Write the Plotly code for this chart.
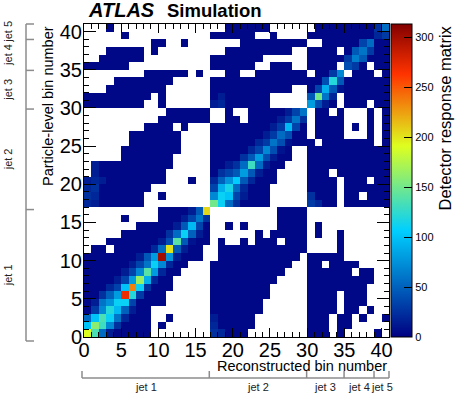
import numpy as np
import plotly.graph_objects as go

FONT = "Liberation Sans, Arial, Helvetica, sans-serif"

n_bins = 41
bin_numbers = list(range(n_bins))
major_ticks = [0, 5, 10, 15, 20, 25, 30, 35, 40]
colorbar_ticks = [0, 50, 100, 150, 200, 250, 300]
z_max = 313

jet_names = ["jet 1", "jet 2", "jet 3", "jet 4", "jet 5"]
jet_edges = [0, 17, 30, 35, 39, 41]

# non-empty cells per particle-level bin, as (first, last) reconstructed bins
filled_cells = {
    40: [(3, 3), (19, 24), (31, 40)],
    39: [(5, 5), (17, 22), (25, 25), (30, 40)],
    38: [(9, 10), (13, 13), (21, 29), (32, 40)],
    37: [(3, 7), (9, 9), (19, 27), (30, 33), (35, 40)],
    36: [(2, 7), (17, 23), (30, 40)],
    35: [(0, 5), (17, 22), (25, 27), (30, 33), (35, 37), (39, 40)],
    34: [(8, 13), (15, 15), (19, 20), (23, 29), (31, 34), (36, 38), (40, 40)],
    33: [(4, 11), (17, 40)],
    32: [(3, 10), (17, 27), (30, 40)],
    31: [(0, 8), (10, 10), (17, 24), (30, 33), (35, 40)],
    30: [(0, 7), (10, 10), (17, 24), (30, 33), (35, 37), (39, 40)],
    29: [(11, 16), (19, 19), (22, 29), (31, 32), (34, 34), (38, 38), (40, 40)],
    28: [(10, 16), (19, 20), (22, 29), (31, 34), (38, 38), (40, 40)],
    27: [(8, 11), (13, 13), (17, 29), (31, 34), (36, 36), (38, 38), (40, 40)],
    26: [(6, 12), (17, 29), (31, 34), (38, 38), (40, 40)],
    25: [(6, 12), (17, 30), (32, 38), (40, 40)],
    24: [(5, 12), (17, 27), (30, 40)],
    23: [(5, 11), (17, 27), (30, 40)],
    22: [(1, 11), (17, 26), (30, 40)],
    21: [(1, 10), (17, 25), (30, 32), (34, 40)],
    20: [(0, 10), (14, 14), (17, 25), (30, 33), (35, 37), (39, 40)],
    19: [(0, 8), (17, 24), (30, 33), (35, 40)],
    18: [(0, 7), (10, 10), (17, 24), (30, 33), (35, 36), (38, 40)],
    17: [(0, 7), (17, 24), (30, 33), (35, 40)],
    16: [(10, 16), (26, 29)],
    15: [(5, 5), (10, 16), (26, 29)],
    14: [(7, 16), (19, 19), (21, 21), (26, 29), (31, 31)],
    13: [(5, 16), (23, 23), (25, 29), (31, 31), (34, 34)],
    12: [(3, 16), (18, 18), (21, 21), (23, 25), (27, 29), (34, 34)],
    11: [(1, 2), (4, 15), (18, 29), (34, 34)],
    10: [(0, 15), (18, 28), (30, 34)],
    9: [(0, 13), (17, 27), (30, 31), (33, 36)],
    8: [(0, 12), (17, 26), (30, 35), (37, 38)],
    7: [(0, 11), (17, 25), (30, 38)],
    6: [(0, 11), (17, 24), (30, 37)],
    5: [(0, 10), (17, 24), (30, 33), (35, 37)],
    4: [(0, 10), (17, 23), (30, 33), (35, 37)],
    3: [(0, 8), (17, 23), (30, 33), (35, 36), (38, 38)],
    2: [(0, 8), (11, 11), (17, 22), (30, 32), (34, 35), (37, 37), (40, 40)],
    1: [(0, 8), (10, 10), (17, 22), (30, 32), (34, 35)],
    0: [(0, 8), (17, 21), (30, 32), (34, 34), (39, 39)],
}
low_count = 4  # typical content of the dark blue cells

# cells standing out from the dark blue, keyed by (particle bin, reco bin)
cell_counts = {
    # jet 1
    (0, 0): 190, (0, 1): 135, (0, 2): 55, (0, 3): 15,
    (1, 0): 100, (1, 1): 160, (1, 2): 130, (1, 3): 70, (1, 4): 25,
    (2, 0): 55, (2, 1): 100, (2, 2): 135, (2, 3): 110, (2, 4): 60, (2, 5): 20,
    (3, 1): 30, (3, 2): 70, (3, 3): 120, (3, 4): 95, (3, 5): 50, (3, 6): 15,
    (4, 1): 15, (4, 2): 60, (4, 3): 75, (4, 4): 110, (4, 5): 110, (4, 6): 35,
    (5, 2): 25, (5, 3): 50, (5, 4): 80, (5, 5): 270, (5, 6): 120, (5, 7): 30,
    (6, 3): 20, (6, 4): 35, (6, 5): 100, (6, 6): 235, (6, 7): 110, (6, 8): 25,
    (7, 4): 15, (7, 5): 35, (7, 6): 80, (7, 7): 165, (7, 8): 90, (7, 9): 20,
    (8, 5): 15, (8, 6): 35, (8, 7): 70, (8, 8): 140, (8, 9): 80, (8, 10): 20,
    (9, 6): 15, (9, 7): 35, (9, 8): 60, (9, 9): 110, (9, 10): 70, (9, 11): 20,
    (10, 7): 15, (10, 8): 45, (10, 9): 80, (10, 10): 300, (10, 11): 75, (10, 12): 15,
    (11, 9): 20, (11, 10): 55, (11, 11): 200, (11, 12): 45, (11, 13): 15,
    (12, 10): 15, (12, 11): 40, (12, 12): 140, (12, 13): 45, (12, 14): 10,
    (13, 11): 25, (13, 12): 55, (13, 13): 110, (13, 14): 50, (13, 15): 15,
    (14, 12): 15, (14, 13): 45, (14, 14): 95, (14, 15): 35,
    (15, 13): 15, (15, 14): 35, (15, 15): 60, (15, 16): 25,
    (16, 14): 15, (16, 15): 45, (16, 16): 205,
    (17, 0): 20, (17, 1): 15, (18, 0): 25, (18, 1): 20, (19, 0): 20, (19, 1): 25,
    (20, 0): 15, (20, 1): 20, (20, 2): 15, (21, 1): 15, (22, 1): 15,
    (0, 17): 25, (0, 18): 20, (1, 17): 20, (2, 17): 15,
    # jet 2
    (17, 17): 150, (17, 18): 110, (17, 19): 55, (17, 20): 25,
    (18, 17): 70, (18, 18): 110, (18, 19): 100, (18, 20): 35, (18, 21): 15,
    (19, 17): 35, (19, 18): 90, (19, 19): 115, (19, 20): 55, (19, 21): 20,
    (20, 17): 20, (20, 18): 50, (20, 19): 75, (20, 20): 105, (20, 21): 45, (20, 22): 20,
    (21, 18): 25, (21, 19): 35, (21, 20): 45, (21, 21): 80, (21, 22): 45, (21, 23): 15,
    (22, 19): 15, (22, 20): 25, (22, 21): 55, (22, 22): 130, (22, 23): 55, (22, 24): 15,
    (23, 21): 25, (23, 22): 45, (23, 23): 80, (23, 24): 40, (23, 25): 15,
    (24, 22): 20, (24, 23): 35, (24, 24): 70, (24, 25): 40, (24, 26): 10,
    (25, 23): 20, (25, 24): 30, (25, 25): 60, (25, 26): 40, (25, 27): 10,
    (26, 24): 15, (26, 25): 30, (26, 26): 55, (26, 27): 40,
    (27, 25): 15, (27, 26): 30, (27, 27): 95, (27, 28): 35,
    (28, 26): 15, (28, 27): 30, (28, 28): 60, (28, 29): 25,
    (29, 27): 15, (29, 28): 35, (29, 29): 60,
    (17, 30): 30, (18, 30): 25, (17, 31): 20,
    # jet 3
    (30, 30): 80, (30, 31): 40, (30, 32): 15,
    (31, 30): 45, (31, 31): 150, (31, 32): 60, (31, 33): 20,
    (32, 31): 35, (32, 32): 90, (32, 33): 45, (32, 34): 10,
    (33, 32): 40, (33, 33): 120, (33, 34): 45,
    (34, 33): 30, (34, 34): 70,
    (30, 17): 15, (30, 18): 20, (31, 18): 15,
    # jet 4 and jet 5
    (35, 35): 40, (35, 36): 30, (36, 35): 30, (36, 36): 65, (36, 37): 45,
    (37, 36): 45, (37, 37): 60, (37, 38): 30, (38, 37): 35, (38, 38): 55,
    (39, 39): 20, (39, 40): 30, (40, 39): 25, (40, 40): 55,
}

# ROOT style rainbow palette
palette = [
    [0.00, "rgb(0,0,130)"],
    [0.34, "rgb(0,207,255)"],
    [0.61, "rgb(222,255,31)"],
    [0.84, "rgb(255,51,0)"],
    [1.00, "rgb(130,0,0)"],
]

z = np.full((n_bins, n_bins), np.nan)
for row, spans in filled_cells.items():
    for first, last in spans:
        z[row, first:last + 1] = low_count
for (row, col), count in cell_counts.items():
    z[row, col] = count

# page geometry (pixels)
W, H = 457, 393
L, R, T, B = 84, 68, 24, 56
PW, PH = W - L - R, H - T - B


def paper_x(px):
    return (px - L) / PW


def paper_y(py):
    return (H - B - py) / PH


fig = go.Figure(go.Heatmap(
    z=z,
    x=[b + 0.5 for b in bin_numbers],
    y=[b + 0.5 for b in bin_numbers],
    zmin=0, zmax=z_max,
    colorscale=palette,
    hoverongaps=False,
    colorbar=dict(
        x=paper_x(391), xanchor="left", xpad=0, ypad=0,
        y=0.5, yanchor="middle", len=1, lenmode="fraction",
        thickness=21, thicknessmode="pixels",
        outlinewidth=1, outlinecolor="black",
        tickvals=colorbar_ticks, ticks="inside", ticklen=8, tickcolor="black",
        tickfont=dict(size=11, family=FONT, color="black"),
    ),
))

axis_style = dict(
    range=[0, n_bins], showline=True, linecolor="black", linewidth=1,
    mirror="ticks", ticks="inside", tickcolor="black", showgrid=False,
    zeroline=False, tickvals=major_ticks,
    tickfont=dict(size=20, family=FONT, color="black"),
    minor=dict(ticks="inside", dtick=1, tick0=0, ticklen=5,
               tickcolor="black", showgrid=False),
)
fig.update_xaxes(**axis_style, ticklen=9, ticklabelstandoff=-5)
fig.update_yaxes(**axis_style, ticklen=12, ticklabelstandoff=-3)

annotations = [
    dict(text="<b><i>ATLAS</i></b>", x=paper_x(86), y=paper_y(10),
         xanchor="left", yanchor="middle", font=dict(size=20)),
    dict(text="<b>Simulation</b>", x=paper_x(165), y=paper_y(10),
         xanchor="left", yanchor="middle", font=dict(size=18.5)),
    dict(text="Reconstructed bin number", x=1, y=paper_y(366),
         xanchor="right", yanchor="middle", font=dict(size=14.5)),
    dict(text="Particle-level bin number", x=paper_x(48), y=1,
         xanchor="center", yanchor="top", textangle=-90, font=dict(size=14.5)),
    dict(text="Detector response matrix", x=paper_x(444), y=1,
         xanchor="center", yanchor="top", textangle=-90, font=dict(size=16.5)),
]

shapes = []
bracket_color = "#8c8c8c"
# jet brackets along the y axis
left_x, left_bottom, left_top = 26, 341, 24
left_scale = (left_bottom - left_top) / n_bins
shapes.append(dict(type="line", xref="paper", yref="paper",
                   x0=paper_x(left_x), x1=paper_x(left_x),
                   y0=paper_y(left_bottom), y1=paper_y(left_top),
                   line=dict(color=bracket_color, width=1.5)))
for edge in jet_edges:
    py = left_bottom - edge * left_scale
    shapes.append(dict(type="line", xref="paper", yref="paper",
                       x0=paper_x(left_x), x1=paper_x(left_x + 8),
                       y0=paper_y(py), y1=paper_y(py),
                       line=dict(color=bracket_color, width=1.5)))
for name, lo, hi in zip(jet_names, jet_edges[:-1], jet_edges[1:]):
    mid = left_bottom - 0.5 * (lo + hi) * left_scale
    annotations.append(dict(text=name, x=paper_x(8), y=paper_y(mid),
                            xanchor="center", yanchor="middle", textangle=-90,
                            font=dict(size=11, color="#222222")))

# jet brackets along the x axis
bot_y, bot_left, bot_right = 378, 82, 389
bot_scale = (bot_right - bot_left) / n_bins
shapes.append(dict(type="line", xref="paper", yref="paper",
                   x0=paper_x(bot_left), x1=paper_x(bot_right),
                   y0=paper_y(bot_y), y1=paper_y(bot_y),
                   line=dict(color=bracket_color, width=1.5)))
for edge in jet_edges:
    px = bot_left + edge * bot_scale
    shapes.append(dict(type="line", xref="paper", yref="paper",
                       x0=paper_x(px), x1=paper_x(px),
                       y0=paper_y(bot_y), y1=paper_y(bot_y - 7),
                       line=dict(color=bracket_color, width=1.5)))
for name, lo, hi in zip(jet_names, jet_edges[:-1], jet_edges[1:]):
    mid = bot_left + 0.5 * (lo + hi) * bot_scale
    annotations.append(dict(text=name, x=paper_x(mid), y=paper_y(387),
                            xanchor="center", yanchor="middle",
                            font=dict(size=11, color="#222222")))

for a in annotations:
    a.update(xref="paper", yref="paper", showarrow=False)

fig.update_layout(
    width=W, height=H,
    margin=dict(l=L, r=R, t=T, b=B),
    paper_bgcolor="white", plot_bgcolor="white",
    font=dict(family=FONT, color="black"),
    annotations=annotations, shapes=shapes,
)

# the page's default body margin would shift the figure by 8 px
fig.write_html("out.html", config={"displayModeBar": False},
               post_script="document.body.style.margin = '0';")
